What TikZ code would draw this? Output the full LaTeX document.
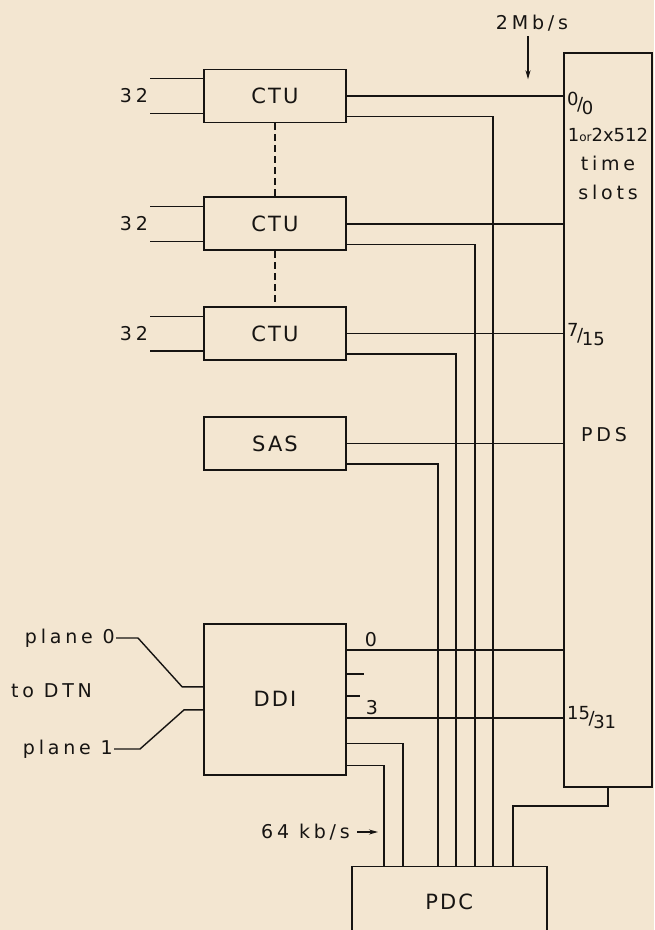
\documentclass[tikz,border=0pt]{standalone}
\usepackage{fontspec}
\newfontfamily\drawfont[LetterSpace=20]{DejaVu Sans}
\newfontfamily\boxfont[LetterSpace=10]{DejaVu Sans}
\newfontfamily\tightfont{DejaVu Sans}
\usepackage{xcolor}
\definecolor{cPaper}{HTML}{F3E6D1}
\definecolor{cInk}{HTML}{161412}
\usetikzlibrary{positioning,arrows.meta}
\newcommand\slotfrac[2]{\raisebox{.28em}{#1}\kern-.08em/\kern-.08em\raisebox{-.22em}{#2}}
\tikzset{
  unit-box/.style={draw=cInk,line width=1.8pt,minimum width=142pt,
    minimum height=53pt,inner sep=0pt,text=cInk,
    font=\boxfont\fontsize{21}{25}\selectfont},
  tag/.style={inner sep=1pt,text=cInk,font=\drawfont\fontsize{19}{22}\selectfont},
  slot-tag/.style={inner sep=1pt,text=cInk,font=\tightfont\fontsize{18}{21}\selectfont},
  wire/.style={draw=cInk,line width=1.4pt},
  wire-dash/.style={draw=cInk,line width=1.4pt,dash pattern=on 7pt off 4pt},
  arrow-rate/.style={-{Stealth[length=9pt,width=5pt]},draw=cInk,line width=1.4pt},
}
\begin{document}
\begin{tikzpicture}[x=1pt,y=1pt]
  \fill[cPaper] (0,0) rectangle (654,-930);
  \useasboundingbox (0,0) rectangle (654,-930);

  % units on the left, PDC below, switch store on the right
  \node[unit-box] (ctuA) at (275,-96) {CTU};
  \node[unit-box,below=73pt of ctuA] (ctuB) {CTU};
  \node[unit-box,below=55pt of ctuB] (ctuC) {CTU};
  \node[unit-box,below=55pt of ctuC] (sas) {SAS};
  \node[unit-box,below=152pt of sas,minimum height=151pt] (ddi) {DDI};
  \node[unit-box,below right=90pt and 4pt of ddi.south east,
    minimum width=195pt,minimum height=70pt] (pdc) {PDC};
  \node[unit-box,anchor=north west,minimum width=88pt,minimum height=734pt]
    (store) at (563,-52) {};

  % store labels
  \node[slot-tag,anchor=west] (s0) at (566,-103) {\slotfrac{0}{0}};
  \node[slot-tag] (size) at (608,-135) {1{\fontsize{12}{13}\selectfont or}2x512};
  \node[tag] (time) at (608,-163) {time};
  \node[tag] (slots) at (608,-192) {slots};
  \node[slot-tag,anchor=west] (s7) at (566,-335) {\slotfrac{7}{15}};
  \node[tag] (pds) at (604,-435) {PDS};
  \node[slot-tag,anchor=west] (s15) at (566,-718) {\slotfrac{15}{31}};

  % rates
  \node[tag] (rate) at (532,-23) {2Mb/s};
  \draw[arrow-rate] ([xshift=-4pt,yshift=-4pt]rate.south) -- ++(0,-43pt);
  \node[tag,anchor=east] (kbps) at (351,-832) {64 kb/s};
  \draw[arrow-rate] ([xshift=6pt]kbps.east) -- ++(21pt,0);

  % CTU inputs
  \foreach \u in {ctuA,ctuB,ctuC}{
    \draw[wire] ([yshift=-10pt]\u.north west) -- +(-53pt,0);
    \draw[wire] ([yshift=10pt]\u.south west) -- +(-53pt,0);
    \node[tag,anchor=east] (in-\u) at ([xshift=-54pt]\u.west) {32};
  }
  \draw[wire-dash] (ctuA) -- (ctuB);
  \draw[wire-dash] (ctuB) -- (ctuC);

  % outputs to store and PDC
  \foreach \u/\dx in {ctuA/142pt,ctuB/124pt,ctuC/105pt,sas/87pt}{
    \draw[wire] (\u.east) -- (\u.east -| store.west);
    \draw[wire] ([yshift=7pt]\u.south east) -| ([xshift=\dx]pdc.north west);
  }

  % DDI
  \coordinate (dd0) at ([yshift=-27pt]ddi.north east);
  \coordinate (dd3) at ([yshift=-95pt]ddi.north east);
  \draw[wire] (dd0) -- (dd0 -| store.west);
  \draw[wire] (dd3) -- (dd3 -| store.west);
  \draw[wire] ([yshift=-51pt]ddi.north east) -- +(17pt,0);
  \draw[wire] ([yshift=-73pt]ddi.north east) -- +(13pt,0);
  \node[tag,anchor=south] (n0) at ([xshift=24pt,yshift=2pt]dd0) {0};
  \node[tag,anchor=south] (n3) at ([xshift=25pt,yshift=2pt]dd3) {3};
  \draw[wire] ([yshift=32pt]ddi.south east) -| ([xshift=52pt]pdc.north west);
  \draw[wire] ([yshift=10pt]ddi.south east) -| ([xshift=33pt]pdc.north west);

  \coordinate (pin0) at ([yshift=-64pt]ddi.north west);
  \coordinate (pin1) at ([yshift=-87pt]ddi.north west);
  \node[tag,anchor=east] (pl0) at (116,-638) {plane 0};
  \node[tag,anchor=west] (dtn) at (10,-691) {to DTN};
  \node[tag,anchor=east] (pl1) at (114,-749) {plane 1};
  \draw[wire] (pin0) -- ++(-21pt,0) -- ([xshift=22pt]pl0.east) -- (pl0.east);
  \draw[wire] (pin1) -- ++(-19pt,0) -- ([xshift=26pt]pl1.east) -- (pl1.east);

  % store back to PDC
  \draw[wire] (store.south) -- ++(0,-18pt) -| ([xshift=162pt]pdc.north west);
\end{tikzpicture}
\end{document}
